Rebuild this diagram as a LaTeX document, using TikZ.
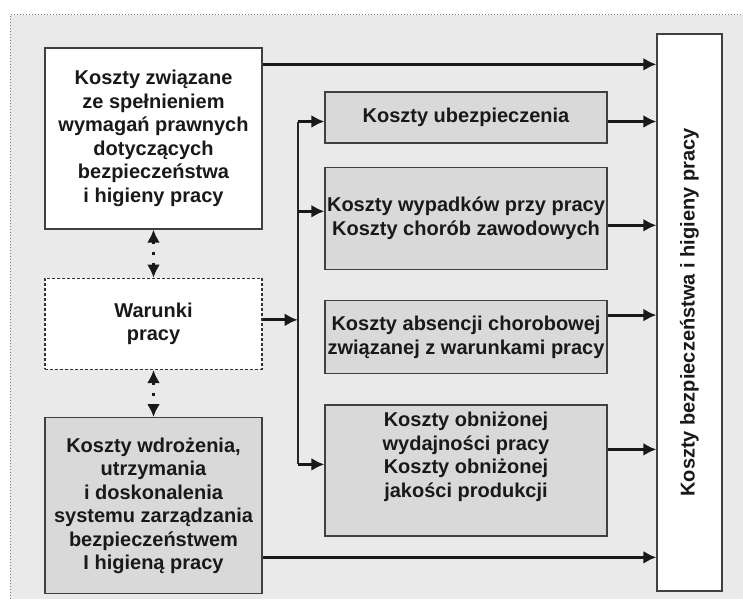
\documentclass[tikz,border=0pt]{standalone}
\usepackage{fontspec}
\setmainfont{Liberation Sans}
\usetikzlibrary{arrows.meta, positioning, calc}

\definecolor{panelgray}{HTML}{EAEAEA}
\definecolor{boxgray}{HTML}{D9D9D9}
\definecolor{edgegray}{HTML}{404040}

\begin{document}
\begin{tikzpicture}[
    x=1pt, y=-1pt,
    node distance=30pt and 30pt,
    font=\fontsize{20}{23.5}\selectfont\bfseries,
    % Define styles
    whitebox/.style={
        rectangle,
        draw=edgegray,
        fill=white,
        text=black!90,
        minimum width=217pt,
        align=center,
        inner sep=1pt,
        line width=1.3pt
    },
    graybox/.style={
        whitebox,
        fill=boxgray
    },
    dashbox/.style={
        whitebox,
        draw=black!80,
        dash pattern=on 3pt off 2pt,
        line width=1.4pt
    },
    midbox/.style={
        graybox,
        minimum width=282pt
    },
    line/.style={
        draw,
        -{Latex[length=13pt,width=13pt]},
        line width=2.8pt,
        black!90
    },
    bus/.style={
        draw,
        line width=2.4pt,
        black!85
    },
    dotline/.style={
        draw,
        {Latex[length=13pt,width=13pt]}-{Latex[length=13pt,width=13pt]},
        dash pattern=on 3pt off 8pt,
        line width=2.6pt,
        black!90
    }
]

% Background panel
\useasboundingbox (0,0) rectangle (743,599);
\path[fill=panelgray] (10,15) rectangle (743,599);
\draw[gray, dotted, line width=1pt] (10,599) -- (10,15) -- (743,15);

% Place nodes
% Left column
\node[whitebox, minimum height=181pt] (law) at (153.5,138.5)
    {Koszty związane\\ze spełnieniem\\wymagań prawnych\\dotyczących\\bezpieczeństwa\\i higieny pracy};
\node[dashbox, minimum height=91pt, below=48pt of law] (work) {Warunki\\pracy};
\node[graybox, minimum height=176pt, below=47pt of work] (sms)
    {Koszty wdrożenia,\\utrzymania\\i doskonalenia\\systemu zarządzania\\bezpieczeństwem\\I higieną pracy};

% Middle column
\node[midbox, minimum height=51pt] (ins) at (466,117.5) {Koszty ubezpieczenia};
\node[midbox, minimum height=102pt, below=23pt of ins] (acc)
    {Koszty wypadków przy pracy\\Koszty chorób zawodowych};
\node[midbox, minimum height=73pt, below=30pt of acc] (abs)
    {Koszty absencji chorobowej\\związanej z warunkami pracy};
\node[midbox, minimum height=131pt, below=30pt of abs] (prod)
    {Koszty obniżonej\\wydajności pracy\\Koszty obniżonej\\jakości produkcji\\[8pt]};

% Right column
\node[whitebox, minimum width=65pt, minimum height=557pt] (total) at (689.5,312.5)
    {\rotatebox{90}{Koszty bezpieczeństwa i higieny pracy}};

% Connector ends
\coordinate (lawout) at ([yshift=-17pt]law.north east);
\coordinate (smsout) at ([yshift=37pt]sms.south east);
\coordinate (workout) at ([yshift=4pt]work.east);
\coordinate[right=35pt of workout] (bus);
\coordinate (insin) at ([yshift=-4pt]ins.west);
\coordinate (accin) at ([yshift=7pt]acc.west);
\coordinate (prodin) at ([yshift=6pt]prod.west);
\coordinate (insout) at ([yshift=-4pt]ins.east);
\coordinate (accout) at ([yshift=-7pt]acc.east);
\coordinate (absout) at ([yshift=22pt]abs.east);
\coordinate (prodout) at ([yshift=21pt]prod.east);

% Draw edges
% Left column to total
\path[line] (lawout) -- (lawout -| total.west);
\path[line] (smsout) -- (smsout -| total.west);

% Mutual influence
\path[dotline] (law.south) -- (law.south |- work.north);
\path[dotline] (work.south) -- (work.south |- sms.north);

% Working conditions to cost groups
\path[bus] (bus |- insin) -- (bus |- prodin);
\path[line] (workout) -- (bus);
\path[line] (bus |- insin) -- (insin);
\path[line] (bus |- accin) -- (accin);
\path[line] (bus |- prodin) -- (prodin);

% Cost groups to total
\path[line] (insout) -- (insout -| total.west);
\path[line] (accout) -- (accout -| total.west);
\path[line] (absout) -- (absout -| total.west);
\path[line] (prodout) -- (prodout -| total.west);

\end{tikzpicture}
\end{document}
